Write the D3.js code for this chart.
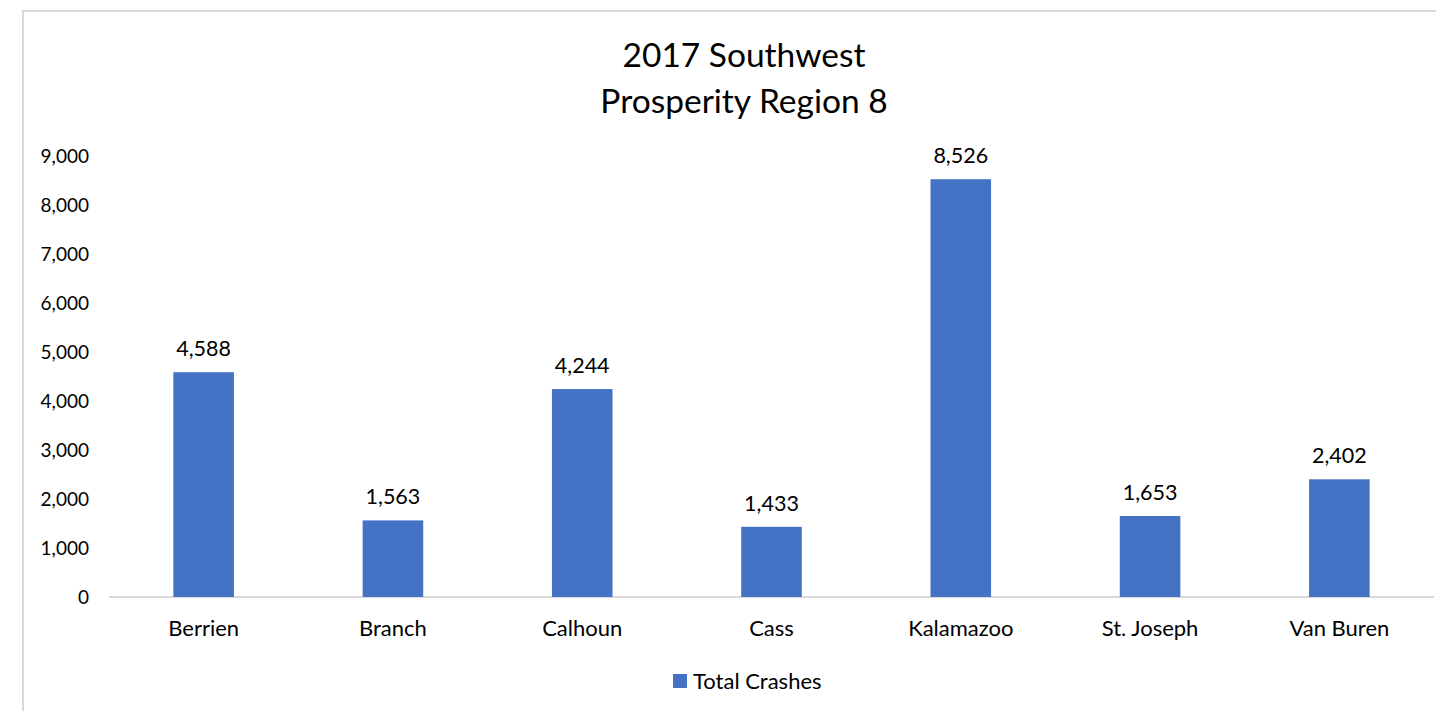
<!DOCTYPE html>
<html>
<head>
<meta charset="utf-8">
<script src="https://cdn.jsdelivr.net/npm/d3@7"></script>
<style>
  body { margin: 0; background: #fff; }
  svg text { font-family: Lato, "Noto Sans", sans-serif; fill: #000; }
</style>
</head>
<body>
<div id="chart"></div>
<script>
const counties = ["Berrien", "Branch", "Calhoun", "Cass", "Kalamazoo", "St. Joseph", "Van Buren"];
const totalCrashes = [4588, 1563, 4244, 1433, 8526, 1653, 2402];
const yTicks = [0, 1000, 2000, 3000, 4000, 5000, 6000, 7000, 8000, 9000];
const titleLines = ["2017 Southwest", "Prosperity Region 8"];
const seriesName = "Total Crashes";

const width = 1436, height = 711;
const margin = {top: 156, right: 2, bottom: 114, left: 109};
const barColor = "#4472c4";

const svg = d3.select("#chart").append("svg")
  .attr("width", width)
  .attr("height", height);

// chart frame (cropped at right and bottom)
svg.append("path")
  .attr("d", `M23,${height} V11 H${width}`)
  .attr("fill", "none")
  .attr("stroke", "#d9d9d9")
  .attr("stroke-width", 2);

const x = d3.scaleBand()
  .domain(counties)
  .range([margin.left, width - margin.right])
  .paddingInner(0.68)
  .paddingOuter(0.34);

const y = d3.scaleLinear()
  .domain([0, 9000])
  .range([height - margin.bottom, margin.top]);

const fmt = d3.format(",");

// y axis labels, no line
const yAxis = svg.append("g")
  .attr("transform", `translate(${margin.left},0)`)
  .call(d3.axisLeft(y).tickValues(yTicks).tickFormat(fmt).tickSize(0).tickPadding(20));
yAxis.select(".domain").remove();
yAxis.selectAll("text")
  .style("font-size", "19px")
  .attr("fill", "#000");

// baseline
svg.append("line")
  .attr("x1", margin.left)
  .attr("x2", width - margin.right)
  .attr("y1", y(0))
  .attr("y2", y(0))
  .attr("stroke", "#d9d9d9")
  .attr("stroke-width", 2);

const data = counties.map((c, i) => ({county: c, value: totalCrashes[i]}));

svg.selectAll(".bar")
  .data(data)
  .enter().append("rect")
    .attr("class", "bar")
    .attr("x", d => x(d.county))
    .attr("y", d => y(d.value))
    .attr("width", x.bandwidth())
    .attr("height", d => y(0) - y(d.value))
    .attr("fill", barColor);

svg.selectAll(".value-label")
  .data(data)
  .enter().append("text")
    .attr("class", "value-label")
    .attr("x", d => x(d.county) + x.bandwidth() / 2)
    .attr("y", d => y(d.value) - 16)
    .attr("text-anchor", "middle")
    .style("font-size", "21.5px")
    .text(d => fmt(d.value));

// category labels
const xAxis = svg.append("g")
  .attr("transform", `translate(0,${y(0)})`)
  .call(d3.axisBottom(x).tickSize(0).tickPadding(23));
xAxis.select(".domain").remove();
xAxis.selectAll("text")
  .style("font-size", "22px")
  .attr("fill", "#000");

// title
svg.append("text")
  .attr("text-anchor", "middle")
  .style("font-size", "33.5px")
  .selectAll("tspan")
  .data(titleLines)
  .enter().append("tspan")
    .attr("x", 744)
    .attr("y", (d, i) => 67 + i * 46)
    .text(d => d);

// legend
const legend = svg.append("g").attr("transform", "translate(673,674)");
legend.append("rect")
  .attr("width", 14)
  .attr("height", 14)
  .attr("fill", barColor);
legend.append("text")
  .attr("x", 20)
  .attr("y", 15)
  .style("font-size", "22px")
  .text(seriesName);
</script>
</body>
</html>
